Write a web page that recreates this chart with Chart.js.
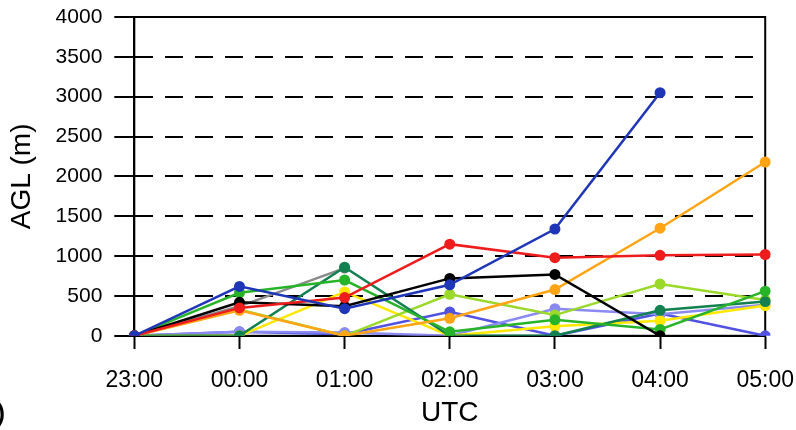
<!DOCTYPE html>
<html>
<head>
<meta charset="utf-8">
<script src="https://cdn.jsdelivr.net/npm/chart.js@4"></script>
<style>
  html, body { margin: 0; padding: 0; background: #fff; }
  #wrap { width: 796px; height: 430px; position: relative; }
</style>
</head>
<body>
<div id="wrap"><canvas id="myChart" width="796" height="430"></canvas></div>
<script>
// data //
const hours = ['23:00', '00:00', '01:00', '02:00', '03:00', '04:00', '05:00'];
const yTicks = [0, 500, 1000, 1500, 2000, 2500, 3000, 3500, 4000];

const blue   = [0, 620, 340, 640, 1340, 3050, null];
const red    = [0, 350, 480, 1150, 980, 1010, 1020];
const black  = [0, 420, 370, 720, 770, 0, null];
const orange = [0, 320, 0, 220, 580, 1350, 2180];
const green  = [0, 540, 700, 50, 200, 80, 560];
const teal   = [0, 0, 860, 0, 0, 320, 430];
const lime   = [0, 330, 0, 520, 260, 650, 450];
const yellow = [0, 0, 550, 0, 120, 190, 380];
const gray   = [0, 370, 850, null, null, null, null];
const lilac  = [0, 50, 40, 0, 340, 270, 390];
const violet = [0, 50, 20, 300, 0, 280, 0];

function serie (data, color) {
    return {
        data: data,
        borderColor: color,
        backgroundColor: color,
        borderWidth: 2.5,
        pointRadius: 5.5,
        pointHoverRadius: 5.5,
        pointBorderWidth: 0,
        tension: 0,
        spanGaps: false
    };
}

const font = 'Liberation Sans, Arial, Helvetica, sans-serif';

// moldura do grafico //
const frame = {
    id: 'frame',
    beforeDatasetsDraw (chart) {
        const a = chart.chartArea;
        const c = chart.ctx;
        c.save();
        c.strokeStyle = '#000';
        c.lineWidth = 2;
        c.strokeRect(a.left, a.top, a.right - a.left, a.bottom - a.top);
        c.restore();
    },
    afterDraw (chart) {
        const c = chart.ctx;
        c.save();
        c.fillStyle = '#000';
        c.font = 'bold 24px ' + font;
        c.textBaseline = 'alphabetic';
        c.fillText(')', -3, 421);
        c.restore();
    }
};

const ctx = document.getElementById('myChart');

new Chart(ctx, {
    type: 'line',
    data: {
        labels: hours,
        datasets: [
            serie(blue, '#2036b8'),
            serie(red, '#ee1c1c'),
            serie(black, '#000000'),
            serie(orange, '#ffa515'),
            serie(green, '#28b428'),
            serie(teal, '#138050'),
            serie(lime, '#9ad82a'),
            serie(yellow, '#ffe800'),
            serie(gray, '#8a8a8a'),
            serie(lilac, '#8a8af2'),
            serie(violet, '#5252e0')
        ]
    },
    options: {
        responsive: false,
        animation: false,
        layout: {
            padding: { left: 4, right: 0, top: 17, bottom: 0 }
        },
        plugins: {
            legend: { display: false },
            tooltip: { enabled: false }
        },
        scales: {
            x: {
                offset: false,
                ticks: {
                    color: '#000',
                    font: { family: font, size: 23 },
                    padding: 2,
                    maxRotation: 0,
                    autoSkip: false
                },
                grid: {
                    drawOnChartArea: false,
                    drawTicks: true,
                    tickLength: 29,
                    tickColor: '#000',
                    tickWidth: 2,
                    tickBorderDash: [12, 100]
                },
                border: { display: true, color: '#000', width: 2 },
                title: {
                    display: true,
                    text: 'UTC',
                    color: '#000',
                    font: { family: font, size: 28 },
                    padding: { top: 0, bottom: 0 }
                }
            },
            y: {
                min: 0,
                max: 4000,
                afterBuildTicks (axis) {
                    axis.ticks = yTicks.map(v => ({ value: v }));
                },
                ticks: {
                    color: '#000',
                    font: { family: font, size: 21 },
                    padding: 2,
                    callback: v => String(v)
                },
                grid: {
                    color: c => (c.tick && c.tick.value > 0 && c.tick.value < 4000) ? '#000' : 'rgba(0,0,0,0)',
                    lineWidth: 2,
                    drawTicks: true,
                    tickLength: 30,
                    tickColor: '#000',
                    tickWidth: 2,
                    tickBorderDash: [0, 10, 20, 100]
                },
                border: { display: true, color: '#000', width: 2, dash: [18, 12] },
                title: {
                    display: true,
                    text: 'AGL (m)',
                    color: '#000',
                    font: { family: font, size: 28 },
                    padding: { top: 1, bottom: 15 }
                }
            }
        }
    },
    plugins: [frame]
});
</script>
</body>
</html>
